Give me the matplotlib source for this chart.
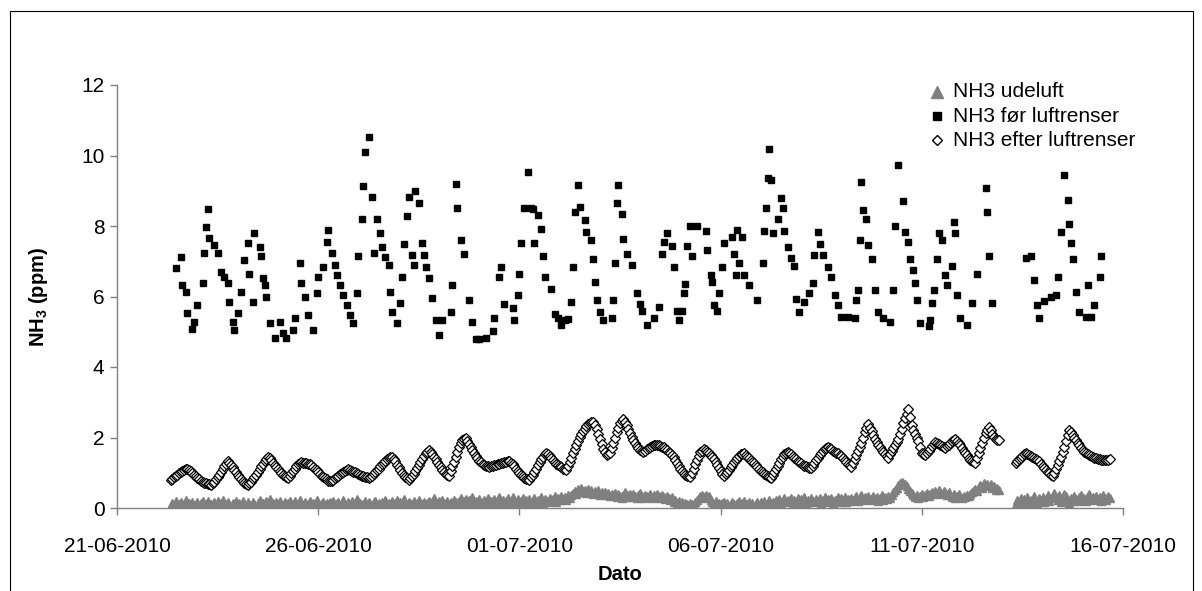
import numpy as np
import matplotlib
matplotlib.use("Agg")
import matplotlib.pyplot as plt
import matplotlib.dates as mdates
from matplotlib.lines import Line2D
from matplotlib.patches import Rectangle
from datetime import datetime, timedelta

plt.rcParams['font.family'] = ['Liberation Sans', 'DejaVu Sans']
plt.rcParams['mathtext.fontset'] = 'custom'
plt.rcParams['mathtext.rm'] = 'Liberation Sans'
plt.rcParams['mathtext.bf'] = 'Liberation Sans:bold'

nan = float('nan')

# ---------------- data ----------------
series_labels = ['NH3 udeluft', 'NH3 før luftrenser', 'NH3 efter luftrenser']
tick_dates = ['21-06-2010', '26-06-2010', '01-07-2010', '06-07-2010', '11-07-2010', '16-07-2010']
start_1h = datetime(2010, 6, 22, 8)     # first hourly sample (udeluft / efter)
base_sq = datetime(2010, 6, 22, 0)      # reference for hours of "før" samples

# hourly values, one row per day
udeluft = [
    0.05, 0.14, 0.08, 0.20, 0.03, 0.12, 0.17, 0.06, 0.10, 0.22, 0.04, 0.15, 0.09, 0.18, 0.02, 0.11, 0.16, 0.07, 0.13, 0.21, 0.05, 0.10, 0.19, 0.08,
    0.12, 0.03, 0.16, 0.09, 0.20, 0.06, 0.13, 0.24, 0.04, 0.11, 0.18, 0.08, 0.02, 0.15, 0.10, 0.21, 0.07, 0.14, 0.05, 0.19, 0.12, 0.03, 0.17, 0.09,
    0.06, 0.18, 0.11, 0.02, 0.15, 0.22, 0.08, 0.13, 0.04, 0.19, 0.10, 0.25, 0.07, 0.14, 0.03, 0.17, 0.12, 0.20, 0.06, 0.09, 0.16, 0.04, 0.13, 0.21,
    0.10, 0.05, 0.19, 0.12, 0.07, 0.23, 0.14, 0.09, 0.17, 0.03, 0.11, 0.20, 0.06, 0.15, 0.12, 0.24, 0.08, 0.02, 0.14, 0.18, 0.09, 0.13, 0.05, 0.16,
    0.11, 0.20, 0.04, 0.14, 0.18, 0.07, 0.12, 0.22, 0.09, 0.03, 0.16, 0.10, 0.19, 0.06, 0.13, 0.25, 0.08, 0.15, 0.04, 0.11, 0.20, 0.07, 0.17, 0.12,
    0.05, 0.16, 0.21, 0.09, 0.14, 0.03, 0.18, 0.12, 0.24, 0.08, 0.15, 0.10, 0.20, 0.06, 0.13, 0.22, 0.11, 0.17, 0.07, 0.26, 0.12, 0.09, 0.18, 0.14,
    0.08, 0.19, 0.13, 0.06, 0.22, 0.15, 0.10, 0.18, 0.04, 0.14, 0.21, 0.09, 0.16, 0.27, 0.11, 0.07, 0.19, 0.13, 0.23, 0.10, 0.15, 0.20, 0.08, 0.17,
    0.12, 0.24, 0.16, 0.09, 0.20, 0.28, 0.14, 0.19, 0.25, 0.11, 0.22, 0.17, 0.30, 0.13, 0.21, 0.15, 0.26, 0.10, 0.18, 0.24, 0.14, 0.29, 0.12, 0.20,
    0.17, 0.26, 0.13, 0.22, 0.30, 0.16, 0.24, 0.11, 0.19, 0.27, 0.14, 0.21, 0.32, 0.18, 0.12, 0.25, 0.20, 0.15, 0.28, 0.10, 0.23, 0.17, 0.26, 0.14,
    0.21, 0.28, 0.15, 0.24, 0.19, 0.31, 0.12, 0.26, 0.22, 0.17, 0.29, 0.20, 0.25, 0.33, 0.18, 0.27, 0.22, 0.34, 0.26, 0.30, 0.24, 0.36, 0.29, 0.38,
    0.42, 0.48, 0.40, 0.53, 0.45, 0.56, 0.47, 0.51, 0.43, 0.55, 0.46, 0.50, 0.41, 0.49, 0.44, 0.52, 0.38, 0.46, 0.40, 0.44, 0.36, 0.42, 0.34, 0.40,
    0.37, 0.43, 0.32, 0.40, 0.35, 0.29, 0.38, 0.44, 0.31, 0.36, 0.41, 0.30, 0.39, 0.34, 0.27, 0.37, 0.42, 0.33, 0.29, 0.38, 0.35, 0.31, 0.40, 0.28,
    0.36, 0.30, 0.41, 0.33, 0.28, 0.37, 0.31, 0.25, 0.34, 0.27, 0.22, 0.30, 0.18, 0.24, 0.15, 0.20, 0.12, 0.17, 0.09, 0.15, 0.11, 0.06, 0.14, 0.10,
    0.08, 0.16, 0.22, 0.29, 0.34, 0.38, 0.31, 0.36, 0.27, 0.33, 0.24, 0.18, 0.12, 0.20, 0.09, 0.15, 0.06, 0.13, 0.18, 0.08, 0.14, 0.05, 0.12, 0.17,
    0.10, 0.04, 0.15, 0.19, 0.08, 0.13, 0.21, 0.06, 0.12, 0.17, 0.09, 0.14, 0.03, 0.11, 0.18, 0.07, 0.16, 0.12, 0.20, 0.09, 0.15, 0.22, 0.11, 0.17,
    0.14, 0.23, 0.18, 0.26, 0.12, 0.21, 0.29, 0.16, 0.24, 0.19, 0.27, 0.13, 0.22, 0.17, 0.28, 0.15, 0.25, 0.20, 0.30, 0.14, 0.23, 0.18, 0.27, 0.21,
    0.16, 0.25, 0.20, 0.29, 0.14, 0.23, 0.31, 0.18, 0.26, 0.21, 0.28, 0.15, 0.24, 0.19, 0.30, 0.17, 0.27, 0.22, 0.32, 0.18, 0.25, 0.20, 0.29, 0.23,
    0.27, 0.33, 0.21, 0.30, 0.36, 0.24, 0.31, 0.27, 0.35, 0.22, 0.29, 0.34, 0.25, 0.32, 0.20, 0.28, 0.36, 0.23, 0.30, 0.26, 0.34, 0.29, 0.38, 0.44,
    0.50, 0.58, 0.64, 0.70, 0.75, 0.72, 0.68, 0.62, 0.55, 0.48, 0.42, 0.36, 0.31, 0.38, 0.27, 0.35, 0.40, 0.30, 0.36, 0.42, 0.33, 0.39, 0.45, 0.41,
    0.47, 0.43, 0.51, 0.46, 0.40, 0.49, 0.44, 0.38, 0.46, 0.36, 0.32, 0.41, 0.29, 0.35, 0.39, 0.31, 0.27, 0.34, 0.30, 0.37, 0.33, 0.40, 0.44, 0.50,
    0.55, 0.48, 0.60, 0.66, 0.58, 0.70, 0.64, 0.68, 0.61, 0.67, 0.56, 0.62, 0.52, 0.58, 0.50, nan, nan, nan, nan, nan, nan, nan, nan, nan,
    0.12, 0.22, 0.16, 0.28, 0.10, 0.25, 0.19, 0.31, 0.14, 0.23, 0.18, 0.34, 0.21, 0.13, 0.27, 0.20, 0.32, 0.16, 0.24, 0.38, 0.19, 0.29, 0.35, 0.42,
    0.30, 0.22, 0.36, 0.18, 0.27, 0.40, 0.33, 0.24, 0.15, 0.29, 0.21, 0.34, 0.26, 0.19, 0.31, 0.37, 0.23, 0.28, 0.20, 0.33, 0.39, 0.25, 0.30, 0.22,
    0.35, 0.26, 0.31, 0.20, 0.36, 0.28, 0.24, 0.33, 0.29,
]

efter = [
    0.80, 0.83, 0.88, 0.92, 0.95, 0.99, 1.02, 1.05, 1.08, 1.11, 1.12, 1.09, 1.05, 1.00, 0.95, 0.90, 0.86, 0.82, 0.78, 0.75, 0.72, 0.70, 0.68, 0.67,
    0.66, 0.70, 0.75, 0.81, 0.88, 0.95, 1.02, 1.10, 1.18, 1.25, 1.32, 1.27, 1.22, 1.15, 1.08, 1.01, 0.95, 0.88, 0.82, 0.77, 0.72, 0.69, 0.66, 0.70,
    0.75, 0.81, 0.88, 0.95, 1.02, 1.10, 1.18, 1.26, 1.34, 1.40, 1.45, 1.41, 1.36, 1.29, 1.22, 1.16, 1.10, 1.04, 0.98, 0.94, 0.90, 0.88, 0.86, 0.92,
    0.98, 1.05, 1.12, 1.18, 1.24, 1.27, 1.30, 1.29, 1.28, 1.27, 1.26, 1.24, 1.22, 1.17, 1.12, 1.07, 1.02, 0.97, 0.92, 0.88, 0.84, 0.81, 0.78, 0.77,
    0.76, 0.80, 0.84, 0.88, 0.92, 0.96, 1.00, 1.03, 1.06, 1.08, 1.10, 1.07, 1.05, 1.03, 1.02, 0.99, 0.96, 0.94, 0.92, 0.90, 0.88, 0.87, 0.86, 0.89,
    0.92, 0.97, 1.02, 1.07, 1.12, 1.18, 1.24, 1.29, 1.34, 1.38, 1.42, 1.44, 1.46, 1.39, 1.32, 1.23, 1.15, 1.07, 1.00, 0.94, 0.88, 0.84, 0.80, 0.85,
    0.90, 0.97, 1.05, 1.13, 1.22, 1.31, 1.40, 1.48, 1.55, 1.60, 1.64, 1.58, 1.52, 1.45, 1.38, 1.30, 1.22, 1.15, 1.08, 1.02, 0.96, 0.94, 0.92, 1.05,
    1.18, 1.31, 1.45, 1.58, 1.72, 1.83, 1.92, 1.96, 1.98, 1.90, 1.82, 1.73, 1.65, 1.56, 1.48, 1.41, 1.34, 1.30, 1.26, 1.23, 1.20, 1.18, 1.17, 1.18,
    1.20, 1.21, 1.22, 1.24, 1.26, 1.27, 1.28, 1.30, 1.31, 1.32, 1.32, 1.29, 1.25, 1.18, 1.12, 1.06, 1.00, 0.95, 0.90, 0.86, 0.83, 0.81, 0.80, 0.87,
    0.95, 1.03, 1.12, 1.21, 1.30, 1.38, 1.46, 1.52, 1.56, 1.52, 1.48, 1.42, 1.36, 1.30, 1.25, 1.21, 1.18, 1.15, 1.12, 1.10, 1.08, 1.18, 1.30, 1.42,
    1.55, 1.68, 1.80, 1.91, 2.02, 2.10, 2.18, 2.25, 2.32, 2.38, 2.42, 2.45, 2.45, 2.36, 2.25, 2.10, 1.95, 1.81, 1.68, 1.58, 1.50, 1.52, 1.55, 1.70,
    1.85, 2.00, 2.15, 2.28, 2.40, 2.47, 2.52, 2.44, 2.35, 2.24, 2.12, 2.02, 1.92, 1.83, 1.75, 1.70, 1.65, 1.62, 1.60, 1.63, 1.66, 1.69, 1.72, 1.75,
    1.78, 1.79, 1.80, 1.78, 1.76, 1.74, 1.72, 1.68, 1.64, 1.60, 1.55, 1.50, 1.44, 1.36, 1.28, 1.20, 1.12, 1.05, 0.99, 0.95, 0.92, 0.90, 0.89, 1.00,
    1.12, 1.24, 1.36, 1.47, 1.58, 1.63, 1.68, 1.64, 1.60, 1.55, 1.50, 1.45, 1.40, 1.31, 1.22, 1.13, 1.04, 0.97, 0.90, 0.96, 1.02, 1.08, 1.15, 1.22,
    1.30, 1.36, 1.42, 1.47, 1.52, 1.54, 1.55, 1.51, 1.46, 1.41, 1.36, 1.31, 1.27, 1.21, 1.16, 1.11, 1.06, 1.01, 0.96, 0.93, 0.90, 0.88, 0.86, 0.94,
    1.02, 1.11, 1.20, 1.29, 1.38, 1.45, 1.52, 1.56, 1.60, 1.56, 1.52, 1.47, 1.42, 1.38, 1.34, 1.30, 1.27, 1.23, 1.20, 1.18, 1.16, 1.14, 1.13, 1.20,
    1.28, 1.35, 1.42, 1.49, 1.56, 1.62, 1.68, 1.70, 1.72, 1.69, 1.66, 1.63, 1.60, 1.57, 1.55, 1.51, 1.48, 1.42, 1.36, 1.30, 1.25, 1.21, 1.17, 1.27,
    1.38, 1.50, 1.62, 1.73, 1.84, 2.00, 2.15, 2.27, 2.38, 2.28, 2.18, 2.06, 1.95, 1.88, 1.80, 1.72, 1.65, 1.58, 1.52, 1.47, 1.42, 1.52, 1.62, 1.71,
    1.80, 1.88, 1.95, 2.10, 2.25, 2.40, 2.55, 2.68, 2.80, 2.58, 2.35, 2.22, 2.10, 2.00, 1.90, 1.72, 1.55, 1.52, 1.50, 1.56, 1.62, 1.68, 1.75, 1.82,
    1.88, 1.85, 1.82, 1.78, 1.75, 1.72, 1.70, 1.75, 1.80, 1.85, 1.90, 1.93, 1.96, 1.91, 1.85, 1.78, 1.70, 1.63, 1.56, 1.49, 1.42, 1.37, 1.32, 1.30,
    1.28, 1.41, 1.55, 1.70, 1.85, 1.98, 2.12, 2.21, 2.30, 2.20, 2.10, 2.02, 1.95, 1.93, 1.92, nan, nan, nan, nan, nan, nan, nan, nan, nan,
    1.28, 1.33, 1.38, 1.43, 1.48, 1.52, 1.55, 1.53, 1.50, 1.47, 1.44, 1.41, 1.38, 1.35, 1.32, 1.26, 1.20, 1.14, 1.08, 1.03, 0.98, 0.94, 0.90, 0.99,
    1.10, 1.21, 1.32, 1.45, 1.58, 1.74, 1.90, 2.06, 2.22, 2.15, 2.08, 2.00, 1.92, 1.85, 1.78, 1.71, 1.65, 1.60, 1.55, 1.52, 1.50, 1.47, 1.45, 1.43,
    1.42, 1.40, 1.38, 1.37, 1.36, 1.35, 1.35, 1.36, 1.38,
]

foer_hours = [
    11, 14, 15, 17, 18, 21, 22, 24, 27, 28, 29, 30, 31, 34, 36, 38, 40, 42, 43, 45,
    46, 48, 50, 52, 54, 55, 57, 58, 61, 62, 63, 64, 65, 67, 70, 73, 75, 77, 81, 82,
    85, 86, 88, 90, 93, 95, 96, 99, 101, 102, 104, 106, 107, 109, 111, 113, 115, 117, 119, 120,
    122, 123, 124, 126, 128, 129, 131, 133, 134, 136, 138, 139, 140, 143, 145, 146, 147, 149, 150, 152,
    153, 154, 156, 158, 159, 160, 162, 164, 166, 168, 170, 175, 176, 178, 179, 181, 183,
    186, 188, 190, 192, 196, 200, 201, 204, 205, 207, 212, 213, 215, 216, 217, 219, 221, 223, 224, 225,
    227, 229, 230, 231, 235, 237, 239, 241, 243, 245, 247, 248, 249, 251, 252, 255, 256, 259, 260, 261,
    262, 264, 266, 271, 272, 273, 274, 275, 277, 278, 280, 283,
    286, 288, 289, 292, 296, 299, 301, 302, 304, 307, 308, 310, 311, 313, 314, 315, 316, 318, 319, 322,
    327, 328, 330, 331, 332, 334, 335, 337, 338, 343, 344, 345, 346, 347, 349, 350, 353, 358, 361, 362,
    363, 364, 365, 366, 367, 370, 372, 373, 374, 376, 378, 380, 381, 383,
    386, 389, 391, 392, 394, 395, 397, 400, 402, 404, 406, 408, 412, 416, 417, 418, 419, 420, 421, 423,
    424, 426, 428, 430, 433, 437, 439, 440, 442, 445, 446, 448, 449, 451, 452, 453, 455, 460, 461, 462,
    463, 465, 466, 468, 470, 471, 474, 475, 476, 477, 479, 483, 486, 489, 494, 495, 496, 498,
    518, 521, 523, 525, 526, 529, 533, 536, 537, 539, 541, 543, 544, 545, 546, 548, 550, 554, 555, 557,
    559, 562, 563,
]

foer = [
    6.80, 7.11, 6.33, 6.14, 5.54, 5.08, 5.29, 5.76, 6.37, 7.22, 7.96, 8.47, 7.65, 7.46, 7.22, 6.70, 6.56, 6.39, 5.85, 5.29,
    5.05, 5.52, 6.14, 7.04, 7.51, 6.64, 5.85, 7.79, 7.41, 7.15, 6.52, 6.33, 5.98, 5.24, 4.81, 5.29, 4.96, 4.81, 5.05, 5.38,
    6.94, 6.37, 6.00, 5.48, 5.05, 6.10, 6.56, 6.84, 7.55, 7.89, 7.22, 6.89, 6.60, 6.33, 6.05, 5.76, 5.48, 5.24, 6.10, 7.15,
    8.20, 9.13, 10.10, 10.52, 8.81, 7.22, 8.20, 7.79, 7.41, 7.13, 6.89, 6.14, 5.57, 5.25, 5.81, 6.56, 7.48, 8.28, 8.81, 7.18,
    6.89, 8.98, 8.64, 7.51, 7.18, 6.84, 6.52, 5.95, 5.33, 4.92, 5.33, 5.57, 6.33, 9.20, 8.50, 7.60, 7.20,
    5.90, 5.28, 4.80, 4.80, 4.82, 5.02, 5.38, 6.56, 6.84, 5.80, 5.67, 5.33, 6.05, 6.64, 7.51, 8.50, 9.52, 8.50, 8.47, 7.51,
    8.30, 7.91, 7.15, 6.56, 6.20, 5.50, 5.40, 5.20, 5.33, 5.35, 5.85, 6.84, 8.40, 9.15, 8.55, 8.17, 7.84, 7.60, 7.06, 6.42,
    5.90, 5.57, 5.33, 5.38, 5.90, 6.94, 8.66, 9.15, 8.33, 7.62, 7.20, 6.90,
    6.10, 5.80, 5.60, 5.20, 5.40, 5.70, 7.20, 7.55, 7.80, 7.44, 6.84, 5.60, 5.33, 5.60, 6.10, 6.35, 7.44, 8.00, 7.15, 8.00,
    7.86, 7.33, 6.60, 6.40, 5.76, 5.60, 6.10, 6.85, 7.52, 7.70, 7.20, 6.60, 7.90, 6.95, 7.70, 6.60, 6.33, 5.90, 6.95, 7.85,
    8.50, 9.36, 10.18, 9.30, 7.80, 8.20, 8.80, 8.50, 7.85, 7.40, 7.10, 6.87, 5.93, 5.55,
    5.85, 6.10, 6.37, 7.18, 7.84, 7.48, 7.18, 6.84, 6.56, 6.05, 5.76, 5.42, 5.42, 5.38, 5.90, 6.18, 7.60, 9.26, 8.45, 8.20,
    7.47, 7.05, 6.18, 5.56, 5.38, 5.29, 6.18, 8.00, 9.74, 8.70, 7.84, 7.55, 7.05, 6.75, 6.37, 5.90, 5.24, 5.15, 5.33, 5.81,
    6.18, 7.05, 7.80, 7.60, 6.62, 6.33, 6.87, 8.10, 7.80, 6.05, 5.38, 5.19, 5.81, 6.65, 9.07, 8.40, 7.15, 5.81,
    7.10, 7.15, 6.47, 5.76, 5.38, 5.86, 6.00, 6.05, 6.56, 7.84, 9.45, 8.75, 8.07, 7.51, 7.07, 6.14, 5.57, 5.42, 6.33, 5.42,
    5.76, 6.54, 7.15,
]

y_ticks = [0, 2, 4, 6, 8, 10, 12]

# ---------------- figure ----------------
W, H = 1202, 591
fig = plt.figure(figsize=(W / 100, H / 100), dpi=100)
fig.patch.set_facecolor('white')

ax_l, ax_r, ax_t, ax_b = 117, 1123, 85, 508
ax = fig.add_axes([ax_l / W, 1 - ax_b / H, (ax_r - ax_l) / W, (ax_b - ax_t) / H])

t1 = [start_1h + timedelta(hours=i) for i in range(len(udeluft))]
tsq = [base_sq + timedelta(hours=h) for h in foer_hours]

grey = '#808080'
ax.plot(t1, udeluft, ls='none', marker='^', ms=6.2, color=grey, mec=grey, zorder=3)
ax.plot(tsq, foer, ls='none', marker='s', ms=4.8, color='black', mec='black', zorder=3)
ax.plot(t1, efter, ls='none', marker='D', ms=4.8, mfc='white', mec='black', mew=0.9, zorder=4)

dates = [datetime.strptime(d, '%d-%m-%Y') for d in tick_dates]
ax.set_xlim(dates[0], dates[-1])
ax.set_ylim(0, 12)
ax.set_xticks(dates)
ax.xaxis.set_major_formatter(mdates.DateFormatter('%d-%m-%Y'))
ax.set_yticks(y_ticks)
ax.set_yticklabels([str(v) for v in y_ticks])

for s in ['top', 'right']:
    ax.spines[s].set_visible(False)
for s in ['left', 'bottom']:
    ax.spines[s].set_color(grey)
    ax.spines[s].set_linewidth(1.0)

ax.tick_params(axis='both', direction='out', length=5, width=1.0, color=grey,
               labelsize=15, labelcolor='black')
ax.tick_params(axis='x', pad=16)
ax.tick_params(axis='y', pad=4)

fig.text(620 / W, 1 - 575 / H, 'Dato', ha='center', va='center', fontsize=14.5, fontweight='bold')
fig.text(38 / W, 1 - 297 / H, r'NH$_\mathbf{3}$ (ppm)', ha='center', va='center',
         rotation=90, fontsize=14.5, fontweight='bold')

# legend
leg_styles = [
    dict(marker='^', ms=8, color=grey, mec=grey),
    dict(marker='s', ms=6, color='black', mec='black'),
    dict(marker='D', ms=5.5, mfc='white', mec='black', mew=1.0),
]
leg_y = [92, 116, 140]
for lab, st, yy in zip(series_labels, leg_styles, leg_y):
    fig.add_artist(Line2D([937 / W], [1 - yy / H], transform=fig.transFigure, ls='none', **st))
    fig.text(953 / W, 1 - yy / H, lab, ha='left', va='center', fontsize=15)

# chart border
fig.add_artist(Rectangle((10.5 / W, -0.01), (1193 - 10.5) / W, 1.01 - 10.5 / H,
                         transform=fig.transFigure, fill=False, ec='black', lw=0.8))

fig.savefig('out.png', dpi=100, facecolor='white')
